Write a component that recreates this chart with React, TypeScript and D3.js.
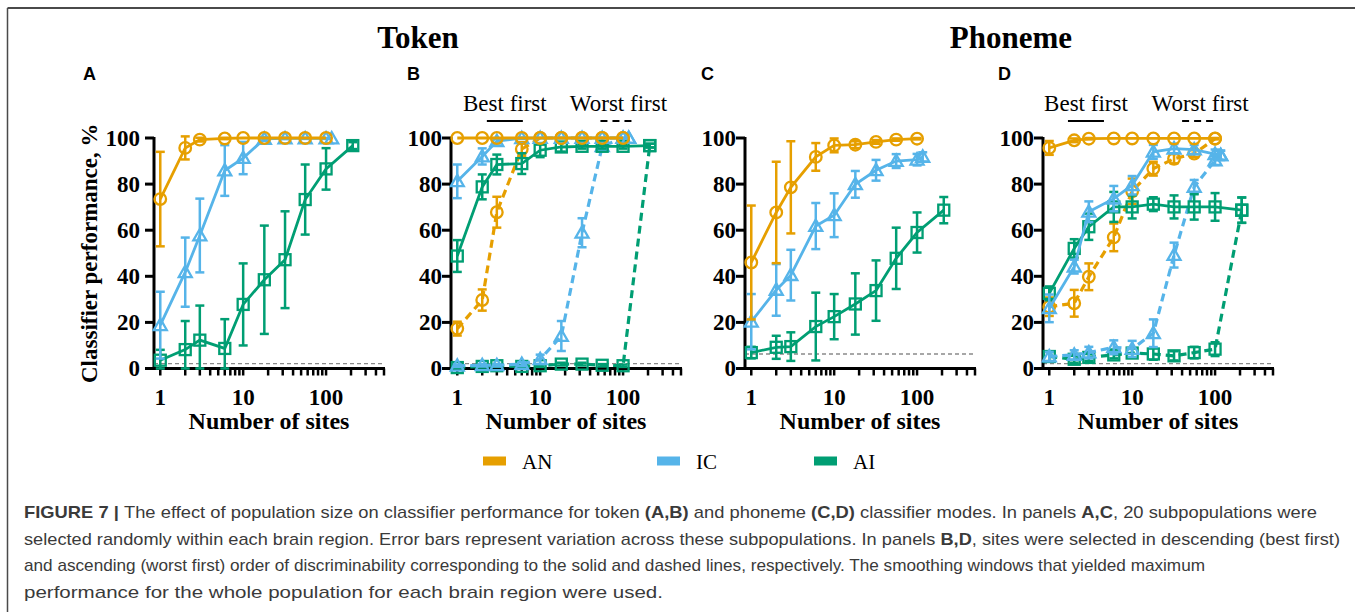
import React from "react";
import * as d3 from "d3";

// Numbers of recording sites in each subpopulation
const SITES_AN = [1, 2, 3, 6, 10, 18, 32, 56, 100];
const SITES_IC = [1, 2, 3, 6, 10, 18, 32, 56, 100, 117];
const SITES_AI = [1, 2, 3, 6, 10, 18, 32, 56, 100, 210];

// A: token, random subpopulations
const A_AN = [73.5, 95.7, 99.3, 99.8, 100, 100, 100, 100, 100];
const A_AN_ERR = [20.5, 5, 0.8, 0.3, 0, 0, 0, 0, 0];
const A_IC = [18.8, 41.8, 57.7, 85.9, 91.3, 99.6, 99.8, 99.8, 99.8, 99.8];
const A_IC_ERR = [14.5, 15, 16, 11, 7, 0.8, 0.3, 0.2, 0.2, 0];
const A_AI = [3.6, 8.2, 12.3, 8.7, 27.8, 38.5, 47.2, 73.3, 86.6, 96.7];
const A_AI_ERR = [4.5, 12.4, 15, 12.7, 17.8, 23.5, 21, 15.2, 9, 1.5];

// B: token, ordered selection
const B_AN_BEST = [100, 100, 100, 100, 100, 100, 100, 100, 100];
const B_AN_BEST_ERR = [0, 0, 0, 0, 0, 0, 0, 0, 0];
const B_AN_WORST = [17.3, 29.7, 67.8, 95.2, 100, 100, 100, 100, 100];
const B_AN_WORST_ERR = [3, 4.6, 6.7, 3, 0, 0, 0, 0, 0];
const B_IC_BEST = [81.2, 92, 98.6, 99.9, 100, 100, 100, 100, 100, 100];
const B_IC_BEST_ERR = [7.3, 3.5, 1, 0.3, 0, 0, 0, 0, 0, 0];
const B_IC_WORST = [1.2, 1.4, 1.4, 1.9, 4, 14.1, 58.9, 96.4, 100, 100];
const B_IC_WORST_ERR = [0.5, 0.5, 0.5, 0.8, 2, 6.5, 6.3, 1.5, 0, 0];
const B_AI_BEST = [48.8, 78.8, 88.5, 88.9, 94.7, 96.1, 96.4, 96.4, 96.4, 96.7];
const B_AI_BEST_ERR = [6.9, 5.4, 4.3, 4.5, 3, 2, 1, 1, 1, 0.8];
const B_AI_WORST = [0.4, 0.9, 1.2, 0.9, 1.2, 1.9, 1.9, 1.4, 1.2, 96.7];
const B_AI_WORST_ERR = [0.4, 0.5, 0.5, 0.5, 0.5, 0.6, 0.6, 0.5, 0.5, 0.8];

// C: phoneme, random subpopulations
const C_AN = [46, 67.7, 78.6, 91.8, 96.8, 97.1, 98.3, 99.3, 99.7];
const C_AN_ERR = [24.7, 22, 20, 6, 3, 1.5, 0.8, 0.5, 0.3];
const C_IC = [20.3, 34.1, 40.5, 61.8, 66.5, 79.9, 86, 90, 90.6, 91.8];
const C_IC_ERR = [12, 11.2, 11, 10, 9.5, 5.8, 4.5, 3, 2.5, 2];
const C_AI = [6.9, 9.2, 9.5, 18.2, 22.5, 28, 33.8, 47.8, 59, 68.7];
const C_AI_ERR = [2.5, 5, 6.2, 14.7, 9.8, 13.3, 13.1, 13.3, 8.7, 5.7];

// D: phoneme, ordered selection
const D_AN_BEST = [95.7, 99, 99.7, 99.8, 99.8, 99.8, 99.8, 99.8, 99.8];
const D_AN_BEST_ERR = [3, 0.8, 0.3, 0, 0, 0, 0, 0, 0];
const D_AN_WORST = [26.8, 28.3, 39.8, 56.9, 76.9, 86.7, 91, 93.2, 99.7];
const D_AN_WORST_ERR = [4, 5.8, 5.8, 6, 5.5, 3, 2, 1.5, 0.3];
const D_IC_BEST = [26.1, 44.2, 68, 73.7, 79.5, 94, 95.4, 95, 93, 92.5];
const D_IC_BEST_ERR = [6, 3, 4.5, 5.5, 4, 3, 2, 2, 2, 2];
const D_IC_WORST = [5.2, 5.9, 6.9, 9.2, 8.5, 15.3, 49.2, 78.8, 90.3, 92.5];
const D_IC_WORST_ERR = [2, 2, 2.5, 3, 3.5, 6, 5.4, 3, 2, 2];
const D_AI_BEST = [32.6, 52.1, 61.5, 70.1, 70.1, 71.3, 70.1, 70.1, 70.1, 68.7];
const D_AI_BEST_ERR = [3, 4, 5.7, 6.5, 5, 3, 5, 5.5, 6, 5.5];
const D_AI_WORST = [5.2, 4, 4.8, 5.9, 6.7, 6.3, 5.5, 6.9, 8.4, 68.7];
const D_AI_WORST_ERR = [2, 1.5, 1.5, 1.5, 2, 2.5, 2, 2.5, 3, 5.5];

// Chance level per panel
const CHANCE = [2.1, 2.1, 6.3, 2.1];

const REGIONS = ["AN", "IC", "AI"];
const X_TICK_LABELS = [1, 10, 100];
const Y_TICKS = [0, 20, 40, 60, 80, 100];
const PANEL_LETTERS = ["A", "B", "C", "D"];
const MODES = ["Token", "Phoneme"];

const COLORS: Record<string, string> = { AN: "#E69F00", IC: "#56B4E9", AI: "#009E73" };
const SHAPES: Record<string, string> = { AN: "circle", IC: "triangle", AI: "square" };

type Series = { region: string; x: number[]; y: number[]; err: number[]; dashed: boolean };

const mk = (region: string, x: number[], y: number[], err: number[], dashed = false): Series => ({
  region, x, y, err, dashed,
});

const PANEL_SERIES: Series[][] = [
  [mk("AI", SITES_AI, A_AI, A_AI_ERR), mk("IC", SITES_IC, A_IC, A_IC_ERR), mk("AN", SITES_AN, A_AN, A_AN_ERR)],
  [
    mk("AI", SITES_AI, B_AI_WORST, B_AI_WORST_ERR, true),
    mk("IC", SITES_IC, B_IC_WORST, B_IC_WORST_ERR, true),
    mk("AN", SITES_AN, B_AN_WORST, B_AN_WORST_ERR, true),
    mk("AI", SITES_AI, B_AI_BEST, B_AI_BEST_ERR),
    mk("IC", SITES_IC, B_IC_BEST, B_IC_BEST_ERR),
    mk("AN", SITES_AN, B_AN_BEST, B_AN_BEST_ERR),
  ],
  [mk("AI", SITES_AI, C_AI, C_AI_ERR), mk("IC", SITES_IC, C_IC, C_IC_ERR), mk("AN", SITES_AN, C_AN, C_AN_ERR)],
  [
    mk("AI", SITES_AI, D_AI_WORST, D_AI_WORST_ERR, true),
    mk("IC", SITES_IC, D_IC_WORST, D_IC_WORST_ERR, true),
    mk("AN", SITES_AN, D_AN_WORST, D_AN_WORST_ERR, true),
    mk("AI", SITES_AI, D_AI_BEST, D_AI_BEST_ERR),
    mk("IC", SITES_IC, D_IC_BEST, D_IC_BEST_ERR),
    mk("AN", SITES_AN, D_AN_BEST, D_AN_BEST_ERR),
  ],
];

const CAPTION: { text: string; bold?: boolean }[][] = [
  [
    { text: "FIGURE 7 | ", bold: true },
    { text: "The effect of population size on classifier performance for token " },
    { text: "(A,B)", bold: true },
    { text: " and phoneme " },
    { text: "(C,D)", bold: true },
    { text: " classifier modes. In panels " },
    { text: "A,C", bold: true },
    { text: ", 20 subpopulations were" },
  ],
  [
    { text: "selected randomly within each brain region. Error bars represent variation across these subpopulations. In panels " },
    { text: "B,D", bold: true },
    { text: ", sites were selected in descending (best first)" },
  ],
  [
    { text: "and ascending (worst first) order of discriminability corresponding to the solid and dashed lines, respectively. The smoothing windows that yielded maximum" },
  ],
  [{ text: "performance for the whole population for each brain region were used." }],
];

const SERIF = "'Liberation Serif', 'Times New Roman', serif";
const SANS = "'Liberation Sans', Arial, sans-serif";

const W = 1355;
const H = 612;
const PANEL_LEFT = [154, 451, 745, 1043];
const PANEL_WIDTH = 230;
const Y_TOP = 138;
const Y_BOTTOM = 368.5;
const LETTER_X = [83, 407, 701, 998];
// where the "Best first" / "Worst first" keys sit, in sites along each ordered panel's axis
const KEY_POS: Record<number, [number, number]> = { 1: [3.75, 88], 3: [2.77, 66] };
const CAPTION_END = [1317, 1340, 1205, 663];

function Marker({ shape, cx, cy, color }: { shape: string; cx: number; cy: number; color: string }) {
  const common = { fill: "none", stroke: color, strokeWidth: 2.3 };
  if (shape === "circle") return <circle cx={cx} cy={cy} r={5.8} {...common} />;
  if (shape === "square") return <rect x={cx - 5.5} y={cy - 5.5} width={11} height={11} {...common} />;
  const s = 6.5;
  return <path d={`M${cx},${cy - s}L${cx + s},${cy + s * 0.75}L${cx - s},${cy + s * 0.75}Z`} {...common} />;
}

function Panel({ idx }: { idx: number }) {
  const left = PANEL_LEFT[idx];
  const x = d3.scaleLog().domain([0.84, 500]).range([left, left + PANEL_WIDTH]);
  const y = d3.scaleLinear().domain([0, 100]).range([Y_BOTTOM, Y_TOP]);
  const ticks = x.ticks().filter((t) => t >= 1 && t <= 500);
  const series = PANEL_SERIES[idx];
  const right = x(500);
  const mid = (left + right) / 2;
  const key = KEY_POS[idx];

  return (
    <g>
      {/* chance level */}
      <line x1={left} x2={right} y1={y(CHANCE[idx])} y2={y(CHANCE[idx])} stroke="#8a8a8a" strokeWidth={1.4} strokeDasharray="4,3" />
      {/* axes */}
      <line x1={left} x2={right + 1} y1={Y_BOTTOM} y2={Y_BOTTOM} stroke="#000" strokeWidth={3} />
      <line x1={left} x2={left} y1={Y_TOP - 1} y2={Y_BOTTOM + 1.5} stroke="#000" strokeWidth={3} />
      {ticks.map((t) => (
        <line key={t} x1={x(t)} x2={x(t)} y1={Y_BOTTOM} y2={Y_BOTTOM + 7} stroke="#000" strokeWidth={2.5} />
      ))}
      {X_TICK_LABELS.map((t) => (
        <text key={t} x={x(t)} y={405} textAnchor="middle" fontFamily={SERIF} fontWeight="bold" fontSize={23}>
          {t}
        </text>
      ))}
      {Y_TICKS.map((t) => (
        <g key={t}>
          <line x1={left - 9} x2={left} y1={y(t)} y2={y(t)} stroke="#000" strokeWidth={3} />
          <text x={left - (idx === 0 ? 14 : 9)} y={y(t) + 7.5} textAnchor="end" fontFamily={SERIF} fontWeight="bold" fontSize={23}>
            {t}
          </text>
        </g>
      ))}
      <text x={mid} y={429} textAnchor="middle" fontFamily={SERIF} fontWeight="bold" fontSize={24}>
        Number of sites
      </text>
      {idx === 0 && (
        <text
          transform={`translate(97,${(Y_TOP + Y_BOTTOM) / 2}) rotate(-90)`}
          textAnchor="middle"
          fontFamily={SERIF}
          fontWeight="bold"
          fontSize={23}
        >
          Classifier performance, %
        </text>
      )}
      <text x={LETTER_X[idx]} y={80} fontFamily={SANS} fontWeight="bold" fontSize={18}>
        {PANEL_LETTERS[idx]}
      </text>
      {key && (
        <g fontFamily={SERIF} fontSize={23}>
          <text x={x(key[0])} y={111} textAnchor="middle">Best first</text>
          <line x1={x(key[0]) - 18} x2={x(key[0]) + 18} y1={121} y2={121} stroke="#000" strokeWidth={2} />
          <text x={x(key[1])} y={111} textAnchor="middle">Worst first</text>
          <line x1={x(key[1]) - 18} x2={x(key[1]) + 18} y1={121} y2={121} stroke="#000" strokeWidth={2} strokeDasharray="7,5" />
        </g>
      )}
      {/* data */}
      {series.map((s, si) => {
        const color = COLORS[s.region];
        const pts: [number, number][] = s.x.map((v, i) => [x(v), y(s.y[i])]);
        const path = d3.line()(pts) || "";
        return (
          <g key={si}>
            <path d={path} fill="none" stroke={color} strokeWidth={s.dashed ? 3.2 : 2.8} strokeDasharray={s.dashed ? "8,5" : undefined} />
            {s.x.map((v, i) => {
              const e = s.err[i];
              if (e <= 0) return null;
              const cx = x(v);
              const lo = y(Math.max(0, s.y[i] - e));
              const hi = y(s.y[i] + e);
              return (
                <g key={i} stroke={color} strokeWidth={2.5}>
                  <line x1={cx} x2={cx} y1={lo} y2={hi} />
                  <line x1={cx - 4.5} x2={cx + 4.5} y1={hi} y2={hi} />
                  <line x1={cx - 4.5} x2={cx + 4.5} y1={lo} y2={lo} />
                </g>
              );
            })}
            {s.x.map((v, i) => (
              <Marker key={i} shape={SHAPES[s.region]} cx={x(v)} cy={y(s.y[i])} color={color} />
            ))}
          </g>
        );
      })}
    </g>
  );
}

export default function App() {
  const legendX = [483, 657, 814];
  const captionX = 24;
  return (
    <svg
      width={W}
      height={H}
      viewBox={`0 0 ${W} ${H}`}
      style={{ position: "absolute", left: 0, top: 0, display: "block", background: "#fff" }}
    >
      <rect x={0} y={0} width={W} height={H} fill="#fff" />
      {/* figure frame */}
      <line x1={7.5} x2={W} y1={8} y2={8} stroke="#4a4a4a" strokeWidth={2} />
      <line x1={7.5} x2={7.5} y1={8} y2={H} stroke="#4a4a4a" strokeWidth={1.5} />

      {MODES.map((m, i) => (
        <text
          key={m}
          x={i === 0 ? 418 : 1011}
          y={48}
          textAnchor="middle"
          fontFamily={SERIF}
          fontWeight="bold"
          fontSize={31}
        >
          {m}
        </text>
      ))}

      {PANEL_LEFT.map((_, i) => (
        <Panel key={i} idx={i} />
      ))}

      {REGIONS.map((r, i) => (
        <g key={r}>
          <rect x={legendX[i]} y={456.5} width={23} height={9} fill={COLORS[r]} />
          <text x={legendX[i] + 39} y={469} fontFamily={SERIF} fontSize={21}>
            {r}
          </text>
        </g>
      ))}

      {CAPTION.map((ln, li) => (
        <text
          key={li}
          x={captionX}
          y={518 + li * 26.7}
          fontFamily={SANS}
          fontSize={17}
          fill="#3a3a3a"
          textLength={CAPTION_END[li] - captionX}
          lengthAdjust="spacingAndGlyphs"
        >
          {ln.map((seg, si) => (
            <tspan key={si} fontWeight={seg.bold ? "bold" : "normal"}>
              {seg.text}
            </tspan>
          ))}
        </text>
      ))}
    </svg>
  );
}
